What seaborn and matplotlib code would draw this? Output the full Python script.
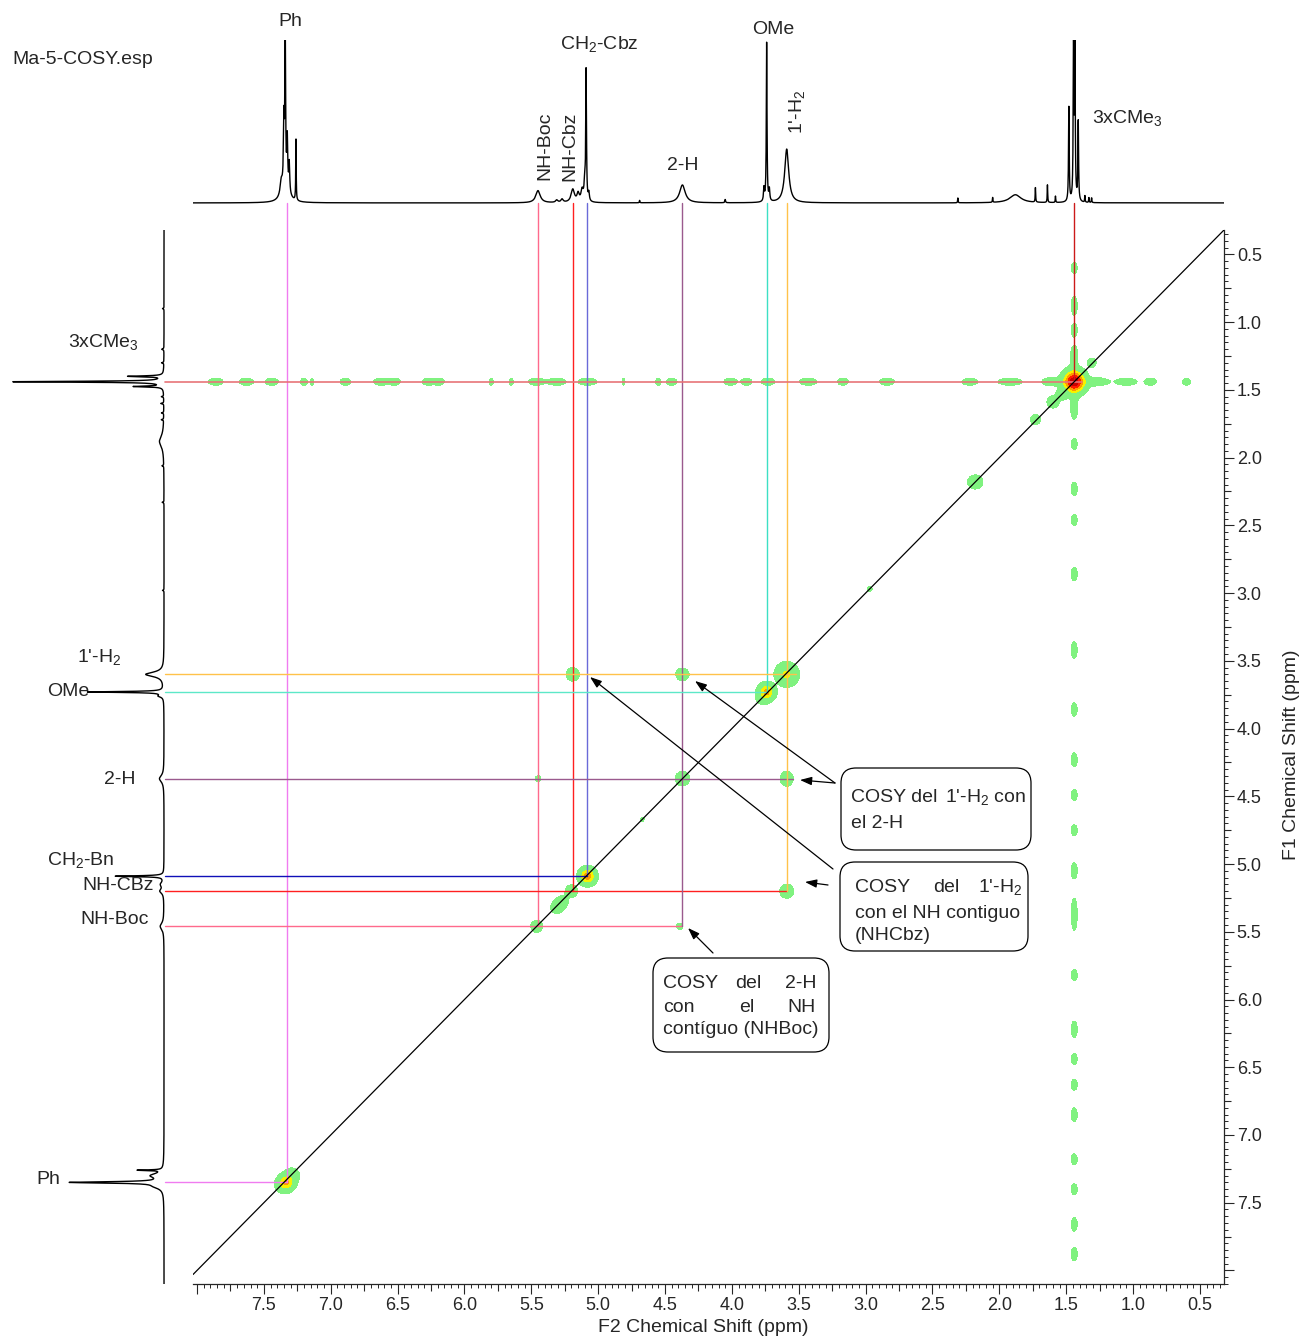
import numpy as np
import pandas as pd
import matplotlib
matplotlib.use('Agg')
import matplotlib.pyplot as plt
import seaborn as sns
from matplotlib.patches import FancyBboxPatch
from matplotlib.transforms import IdentityTransform
from matplotlib.ticker import MultipleLocator, FuncFormatter

# ====================== DATA ======================
# 1D proton spectrum on top (F2): peak shift, height, half width (ppm)
top_pk_ppm = [7.37, 7.35, 7.34, 7.325, 7.31, 7.34, 7.26, 5.45, 5.31, 5.27, 5.19, 5.15, 5.12,
              5.10, 5.09, 5.07, 4.69, 4.37, 4.05, 3.76, 3.74, 3.72, 3.59, 2.31, 2.05, 1.88,
              1.73, 1.64, 1.58, 1.48, 1.445, 1.435, 1.41, 1.36, 1.33, 1.31]
top_pk_h = [0.08, 0.40, 0.98, 0.30, 0.18, 0.10, 0.38, 0.075, 0.015, 0.02, 0.08, 0.05, 0.07,
            0.12, 0.80, 0.05, 0.015, 0.11, 0.02, 0.08, 0.98, 0.07, 0.33, 0.03, 0.03, 0.05,
            0.09, 0.11, 0.04, 0.58, 1.0, 1.0, 0.49, 0.04, 0.03, 0.03]
top_pk_w = [0.01, 0.004, 0.003, 0.004, 0.004, 0.03, 0.002, 0.02, 0.01, 0.01, 0.015, 0.01, 0.01,
            0.006, 0.003, 0.005, 0.002, 0.025, 0.003, 0.004, 0.003, 0.004, 0.018, 0.002, 0.002,
            0.05, 0.002, 0.002, 0.002, 0.003, 0.003, 0.003, 0.003, 0.002, 0.002, 0.002]

# 1D spectrum on the left (F1)
left_pk_ppm = [0.90, 1.20, 1.30, 1.40, 1.44, 1.475, 1.55, 1.60, 1.67, 1.72, 1.88, 2.06, 2.33,
               2.98, 3.60, 3.73, 3.76, 4.37, 5.09, 5.15, 5.20, 5.46, 7.26, 7.30, 7.35, 7.38]
left_pk_h = [0.01, 0.015, 0.015, 0.23, 1.0, 0.19, 0.015, 0.02, 0.015, 0.015, 0.03, 0.012, 0.012,
             0.01, 0.12, 0.50, 0.03, 0.03, 0.32, 0.02, 0.025, 0.025, 0.16, 0.08, 0.60, 0.05]
left_pk_w = [0.003, 0.004, 0.003, 0.004, 0.004, 0.004, 0.003, 0.003, 0.003, 0.003, 0.05, 0.003,
             0.003, 0.003, 0.02, 0.004, 0.01, 0.03, 0.004, 0.02, 0.02, 0.03, 0.003, 0.02, 0.006, 0.02]

# COSY peaks: F2, F1, amplitude, sigma F2, sigma F1
cp_f2 = [1.44, 1.44, 1.44, 7.33, 7.36, 7.29, 3.74, 3.77, 3.59, 5.08, 4.37, 5.20, 5.27, 5.31,
         5.46, 4.67, 2.18, 2.97, 1.73, 1.60, 1.53, 1.31, 5.19, 4.37, 3.59, 3.59, 5.45, 4.39]
cp_f1 = [1.44, 1.44, 1.44, 7.35, 7.37, 7.30, 3.73, 3.77, 3.60, 5.09, 4.37, 5.20, 5.28, 5.32,
         5.46, 4.67, 2.18, 2.97, 1.72, 1.59, 1.53, 1.30, 3.60, 3.60, 4.37, 5.20, 4.37, 5.46]
cp_amp = [90, 5, 5, 30, 6, 6, 35, 4, 18, 40, 5, 4, 3, 3,
          3.5, 1.6, 4.5, 1.7, 3, 3, 3, 2.5, 4, 4, 4.5, 4.5, 1.8, 2]
cp_sx = [0.04, 0.11, 0.018, 0.03, 0.03, 0.03, 0.03, 0.03, 0.04, 0.03, 0.03, 0.028, 0.03, 0.03,
         0.028, 0.015, 0.033, 0.018, 0.025, 0.03, 0.03, 0.025, 0.03, 0.03, 0.028, 0.03, 0.02, 0.02]
cp_sy = [0.04, 0.018, 0.11, 0.03, 0.03, 0.03, 0.03, 0.03, 0.04, 0.03, 0.03, 0.028, 0.03, 0.03,
         0.028, 0.015, 0.03, 0.018, 0.025, 0.03, 0.03, 0.025, 0.03, 0.028, 0.032, 0.03, 0.02, 0.02]

# t1 noise streaks of the tBu signal (horizontal: along F2 at F1=1.44)
h_streak_f2 = [7.86, 7.63, 7.44, 7.20, 7.14, 6.89, 6.62, 6.52, 6.27, 6.19, 5.80, 5.65, 5.46,
               5.31, 5.08, 4.81, 4.55, 4.45, 4.01, 3.89, 3.73, 3.43, 3.17, 2.84, 2.22, 1.92,
               1.62, 1.27, 1.05, 0.87, 0.60]
h_streak_len = [0.055, 0.055, 0.05, 0.025, 0.012, 0.04, 0.06, 0.04, 0.045, 0.04, 0.015, 0.015,
                0.06, 0.07, 0.07, 0.01, 0.02, 0.04, 0.05, 0.04, 0.05, 0.065, 0.04, 0.055, 0.06,
                0.09, 0.05, 0.08, 0.08, 0.045, 0.03]
# vertical streak: along F1 at F2=1.44
v_streak_f1 = [0.60, 0.88, 1.06, 1.23, 1.65, 1.90, 2.23, 2.46, 2.86, 3.42, 3.86, 4.23, 4.49,
               4.75, 5.05, 5.37, 5.82, 6.22, 6.44, 6.63, 6.85, 7.18, 7.40, 7.66, 7.88]
v_streak_len = [0.04, 0.07, 0.05, 0.05, 0.06, 0.04, 0.05, 0.04, 0.05, 0.06, 0.05, 0.05, 0.04,
                0.04, 0.06, 0.12, 0.04, 0.06, 0.04, 0.04, 0.05, 0.04, 0.04, 0.05, 0.05]
streak_pos = 1.44

# assignment lines
assign_name = ["Ph", "NH-Boc", "NH-Cbz", "CH2", "2-H", "OMe", "1'-H2", "CMe3"]
assign_f2 = [7.33, 5.45, 5.19, 5.08, 4.37, 3.74, 3.59, 1.44]
assign_f1 = [7.35, 5.46, 5.20, 5.09, 4.37, 3.73, 3.60, 1.44]
vline_stop = [7.35, 5.46, 5.20, 5.09, 5.46, 3.73, 5.20, 1.44]
hline_stop = [7.33, 4.37, 3.59, 5.08, 3.54, 3.74, 3.52, 1.38]
vline_col = ['#F07CF0', '#FF6A8C', '#FF2020', '#6A6AD8', '#9A5A8E', '#3CE0C4', '#FFC24A', '#CC1A1A']
hline_col = ['#F07CF0', '#FF6A8C', '#FF2020', '#1010B8', '#9A5A8E', '#5CE8C8', '#FFC24A', '#E87478']

# ====================== BUILD ======================
sns.set_style("white")
plt.rcParams['font.family'] = ['Liberation Sans', 'DejaVu Sans']
plt.rcParams['mathtext.fontset'] = 'custom'
plt.rcParams['mathtext.rm'] = 'Liberation Sans'
plt.rcParams['mathtext.it'] = 'Liberation Sans'

W, H = 1303, 1338
X0, X1 = 8.03, 0.32
Y0, Y1 = 8.10, 0.32
FS = 14


def fx(x):
    return x / W


def fy(y):
    return 1 - y / H


def lorentz(grid, pos, hts, wid):
    out = np.zeros_like(grid)
    for p, h, w in zip(pos, hts, wid):
        out += h * w ** 2 / ((grid - p) ** 2 + w ** 2)
    return out


ppm = np.linspace(X1, X0, 9000)
top_spec = pd.DataFrame({'ppm': ppm, 'I': lorentz(ppm, top_pk_ppm, top_pk_h, top_pk_w)})
ppm_l = np.linspace(Y1, Y0, 9000)
left_spec = pd.DataFrame({'ppm': ppm_l, 'I': lorentz(ppm_l, left_pk_ppm, left_pk_h, left_pk_w)})

# 2D map
gx = np.linspace(X1, X0, 1100)
gy = np.linspace(Y1, Y0, 1100)
Z = np.zeros((gy.size, gx.size))
pk2 = list(zip(cp_f2, cp_f1, cp_amp, cp_sx, cp_sy))
pk2 += [(f, streak_pos, 3.0, L / 1.48, 0.0175) for f, L in zip(h_streak_f2, h_streak_len)]
pk2 += [(streak_pos, f, 3.0, 0.015, L / 1.48) for f, L in zip(v_streak_f1, v_streak_len)]
for f2, f1, a, sx, sy in pk2:
    Z += a * np.outer(np.exp(-0.5 * ((gy - f1) / sy) ** 2), np.exp(-0.5 * ((gx - f2) / sx) ** 2))

fig = plt.figure(figsize=(W / 100, H / 100), dpi=100)
ax = fig.add_axes([fx(193), fy(1284), fx(1224) - fx(193), fy(230) - fy(1284)])
ax_top = fig.add_axes([fx(193), fy(207), fx(1224) - fx(193), fy(40) - fy(207)])
ax_left = fig.add_axes([fx(8), fy(1284), fx(168) - fx(8), fy(230) - fy(1284)])

# contours
ax.contourf(gx, gy, Z, levels=[1, 15, 30, 50, 75, 1e5],
            colors=['#80F280', '#F6F200', '#FF9A00', '#FF1A00', '#C80000'], zorder=1)

# assignment lines
for i in range(len(assign_name)):
    ax.plot([assign_f2[i], assign_f2[i]], [0.124, vline_stop[i]], color=vline_col[i],
            lw=1.0, clip_on=False, zorder=2)
    ax.plot([8.24, hline_stop[i]], [assign_f1[i], assign_f1[i]], color=hline_col[i],
            lw=1.2 if assign_name[i] == 'CMe3' else 1.0, clip_on=False, zorder=2)

ax.axline((1, 1), (2, 2), color='black', lw=0.9, zorder=3)

ax.set_xlim(X0, X1)
ax.set_ylim(Y0, Y1)
for s in ['top', 'left']:
    ax.spines[s].set_visible(False)
for s in ['bottom', 'right']:
    ax.spines[s].set_linewidth(0.9)
ax.yaxis.tick_right()
ax.xaxis.set_major_locator(MultipleLocator(0.5))
ax.xaxis.set_minor_locator(MultipleLocator(0.05))
ax.yaxis.set_major_locator(MultipleLocator(0.5))
ax.yaxis.set_minor_locator(MultipleLocator(0.05))
fmt = FuncFormatter(lambda v, p: '' if v > 7.9 else f'{v:.1f}')
ax.xaxis.set_major_formatter(fmt)
ax.yaxis.set_major_formatter(fmt)
ax.tick_params(which='both', bottom=True, right=True, left=False, top=False,
               labelbottom=True, labelright=True, labelleft=False)
ax.tick_params(which='major', direction='out', length=7.2, width=0.8, labelsize=13, pad=2)
ax.tick_params(which='minor', direction='out', length=3.0, width=0.7)
ax.set_xlabel('')
ax.set_ylabel('')

secx = ax.secondary_xaxis('bottom')
secx.set_xticks(np.arange(0.75, 8.0, 0.5))
secx.set_xticklabels([])
secx.tick_params(bottom=True, length=5, width=0.8, direction='out')
secx.spines['bottom'].set_visible(False)
secy = ax.secondary_yaxis('right')
secy.set_yticks(np.arange(0.75, 8.0, 0.5))
secy.set_yticklabels([])
secy.tick_params(right=True, length=5, width=0.8, direction='out')
secy.spines['right'].set_visible(False)

# top 1D spectrum
sns.lineplot(data=top_spec, x='ppm', y='I', ax=ax_top, color='black', lw=1.0,
             estimator=None, sort=False)
ax_top.set_xlim(X0, X1)
ax_top.set_ylim(-0.025, 1.0)
ax_top.axis('off')

# left 1D spectrum
sns.lineplot(data=left_spec, x='I', y='ppm', ax=ax_left, color='black', lw=1.0,
             estimator=None, sort=False, orient='y')
ax_left.set_xlim(1.026, -0.026)
ax_left.set_ylim(Y0, Y1)
ax_left.axis('off')

# labels
def ftext(x, y, s, **kw):
    kw.setdefault('ha', 'center')
    kw.setdefault('va', 'center')
    kw.setdefault('fontsize', FS)
    fig.text(fx(x), fy(y), s, **kw)


ftext(12, 60, 'Ma-5-COSY.esp', ha='left')
ftext(290, 22, 'Ph')
ftext(599, 44, 'CH$_2$-Cbz')
ftext(773, 30, 'OMe')
ftext(545, 146, 'NH-Boc', rotation=90)
ftext(570, 146, 'NH-Cbz', rotation=90)
ftext(683, 166, '2-H')
ftext(797, 112, "1'-H$_2$", rotation=90)
ftext(1092, 118, '3xCMe$_3$', ha='left')

ftext(103, 342, '3xCMe$_3$')
ftext(99, 657, "1'-H$_2$")
ftext(89, 691, 'OMe', ha='right')
ftext(120, 779, '2-H')
ftext(81, 860, 'CH$_2$-Bn')
ftext(118, 885, 'NH-CBz')
ftext(115, 919, 'NH-Boc')
ftext(48, 1179, 'Ph')

ftext(703, 1327, 'F2 Chemical Shift (ppm)')
ftext(1291, 755, 'F1 Chemical Shift (ppm)', rotation=90)

# callout boxes
for x0, y0, x1, y1 in [(841, 768, 1031, 850), (840, 862, 1028, 951), (653, 958, 829, 1052)]:
    fig.add_artist(FancyBboxPatch((x0, H - y1), x1 - x0, y1 - y0,
                                  boxstyle='round,pad=0,rounding_size=15',
                                  fc='white', ec='black', lw=0.9, transform=IdentityTransform()))

ftext(851, 797, 'COSY del', ha='left')
ftext(1026, 797, "1'-H$_2$ con", ha='right')
ftext(851, 823, 'el 2-H', ha='left')
ftext(855, 887, 'COSY', ha='left')
ftext(946, 887, 'del')
ftext(1022, 887, "1'-H$_2$", ha='right')
ftext(855, 913, 'con el NH contiguo', ha='left')
ftext(855, 936, '(NHCbz)', ha='left')
ftext(663, 984, 'COSY', ha='left')
ftext(748, 984, 'del')
ftext(816, 984, '2-H', ha='right')
ftext(663, 1007, 'con', ha='left')
ftext(747, 1007, 'el')
ftext(816, 1007, 'NH', ha='right')
ftext(663, 1030, 'contíguo (NHBoc)', ha='left')

arrows = [((835, 783), (800, 780)), ((835, 783), (695, 681)), ((833, 869), (590, 677)),
          ((828, 885), (805, 882)), ((713, 953), (688, 928))]
for (sx_, sy_), (ex_, ey_) in arrows:
    ax.annotate('', xy=(ex_, H - ey_), xytext=(sx_, H - sy_),
                xycoords='figure pixels', textcoords='figure pixels',
                arrowprops=dict(arrowstyle='-|>,head_length=0.7,head_width=0.25',
                                color='black', lw=0.9, shrinkA=0, shrinkB=0))

fig.savefig('out.png', dpi=100)
